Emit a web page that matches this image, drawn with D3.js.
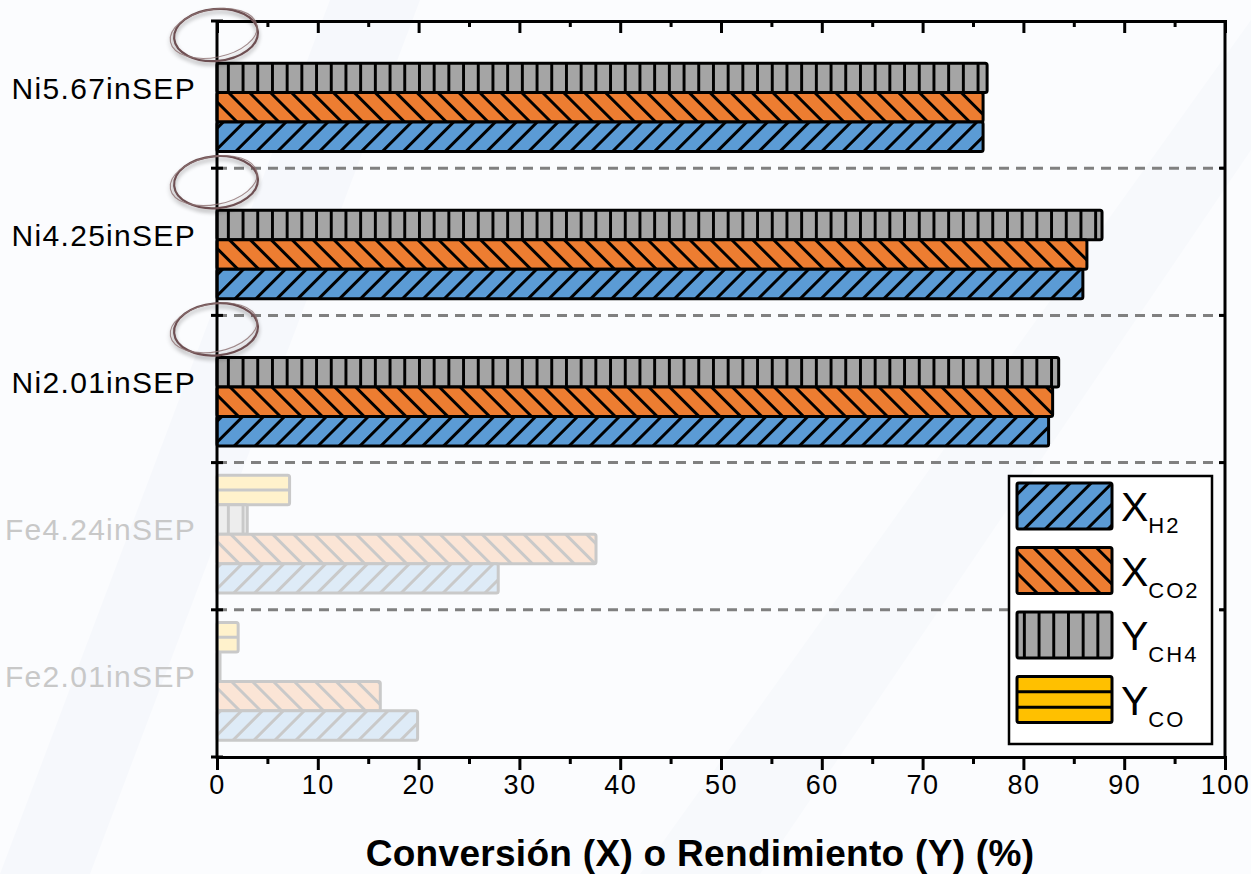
<!DOCTYPE html>
<html>
<head>
<meta charset="utf-8">
<script src="https://cdn.jsdelivr.net/npm/d3@7"></script>
<style>
body { margin: 0; background: #fbfcfe }
text { font-family: "Liberation Sans", Arial, sans-serif }
</style>
</head>
<body>
<svg id="chart" width="1251" height="874"></svg>
<script>
// categories top to bottom
const categories = ["Ni5.67inSEP", "Ni4.25inSEP", "Ni2.01inSEP", "Fe4.24inSEP", "Fe2.01inSEP"]
const faded = [false, false, false, true, true]

const xH2  = [76.0, 85.9, 82.5, 27.9, 19.9]
const xCO2 = [76.0, 86.3, 82.9, 37.6, 16.2]
const yCH4 = [76.4, 87.8, 83.5, 3.0, 0.3]
const yCO  = [0, 0, 0, 7.2, 2.1]

const xTicks = [0, 10, 20, 30, 40, 50, 60, 70, 80, 90, 100]
const xMinorTicks = [5, 15, 25, 35, 45, 55, 65, 75, 85, 95]

const seriesKeys = ["YCO", "YCH4", "XCO2", "XH2"]   // order inside a group, top to bottom
const legendKeys = ["XH2", "XCO2", "YCH4", "YCO"]
const legendMain = ["X", "X", "Y", "Y"]
const legendSub = ["H2", "CO2", "CH4", "CO"]

const xLabel = "Conversión (X) o Rendimiento (Y) (%)"

const values = { XH2: xH2, XCO2: xCO2, YCH4: yCH4, YCO: yCO }

const style = {
    XH2:  { fill: "#5b9bd5", pale: "#deebf7", hatch: "diag", angle: 45 },
    XCO2: { fill: "#ed7d31", pale: "#fbe5d6", hatch: "diag", angle: -45 },
    YCH4: { fill: "#a5a5a5", pale: "#ededed", hatch: "vert" },
    YCO:  { fill: "#ffc000", pale: "#fff2cc", hatch: "horiz" }
}
const paleStroke = "#c9c9c9"

const plot = { left: 217, right: 1225, top: 21, bottom: 757 }

const svg = d3.select("#chart")
const defs = svg.append("defs")

const x = d3.scaleLinear().domain([0, 100]).range([plot.left, plot.right])
const y = d3.scaleBand().domain(categories).range([plot.top, plot.bottom]).padding(0)
const ySub = d3.scaleBand().domain(seriesKeys).range([-2, y.bandwidth() - 2]).paddingOuter(0.5).paddingInner(0)

// hatch patterns
function makePattern(id, key, pale) {
    const s = style[key]
    const bg = pale ? s.pale : s.fill
    const ink = pale ? paleStroke : "#000"
    if (s.hatch == "diag") {
        const w = 14.8
        const p = defs.append("pattern").attr("id", id)
            .attr("patternUnits", "userSpaceOnUse")
            .attr("width", w).attr("height", w)
            .attr("patternTransform", "rotate(" + s.angle + ")")
        p.append("rect").attr("width", w).attr("height", w).attr("fill", bg)
        p.append("line").attr("x1", w / 2).attr("x2", w / 2).attr("y1", -1).attr("y2", w + 1)
            .attr("stroke", ink).attr("stroke-width", 3)
    } else if (s.hatch == "vert") {
        const w = 14.7
        const p = defs.append("pattern").attr("id", id)
            .attr("patternUnits", "userSpaceOnUse")
            .attr("x", plot.left + 4)
            .attr("width", w).attr("height", 40)
        p.append("rect").attr("width", w).attr("height", 40).attr("fill", bg)
        p.append("line").attr("x1", w / 2).attr("x2", w / 2).attr("y1", -1).attr("y2", 41)
            .attr("stroke", ink).attr("stroke-width", 3)
    }
}
seriesKeys.forEach(k => { makePattern("h-" + k, k, false); makePattern("p-" + k, k, true) })

// shadow for the hand-drawn circles
const f = defs.append("filter").attr("id", "soft").attr("x", "-20%").attr("y", "-20%").attr("width", "140%").attr("height", "160%")
f.append("feGaussianBlur").attr("in", "SourceAlpha").attr("stdDeviation", 2)
f.append("feOffset").attr("dy", 3).attr("result", "b")
f.append("feComponentTransfer").append("feFuncA").attr("type", "linear").attr("slope", 0.35)
const fm = f.append("feMerge")
fm.append("feMergeNode")
fm.append("feMergeNode").attr("in", "SourceGraphic")

// faint background bands
svg.append("polygon").attr("points", "0,874 90,874 420,0 330,0").attr("fill", "#f6f8fc")
svg.append("polygon").attr("points", "640,874 760,874 1251,150 1251,20").attr("fill", "#f7f9fc")

// separators
const bounds = categories.slice(1).map(c => y(c))
svg.append("g").selectAll("line").data(bounds).join("line")
    .attr("x1", plot.left).attr("x2", plot.right)
    .attr("y1", d => d).attr("y2", d => d)
    .attr("stroke", "#808080").attr("stroke-width", 3)
    .attr("stroke-dasharray", "10,7")

// bars
function fillFor(key, isPale) {
    const s = style[key]
    if (s.hatch == "horiz") return isPale ? s.pale : s.fill
    return "url(#" + (isPale ? "p-" : "h-") + key + ")"
}

const bars = []
categories.forEach((c, i) => {
    seriesKeys.forEach(k => {
        if (values[k][i] > 0) bars.push({ cat: c, key: k, v: values[k][i], pale: faded[i] })
    })
})

const barG = svg.append("g")
barG.selectAll("rect").data(bars).join("rect")
    .attr("x", x(0))
    .attr("y", d => y(d.cat) + ySub(d.key))
    .attr("width", d => x(d.v) - x(0))
    .attr("height", ySub.bandwidth())
    .attr("rx", 2)
    .attr("fill", d => fillFor(d.key, d.pale))
    .attr("stroke", d => d.pale ? paleStroke : "#000")
    .attr("stroke-width", 3)

barG.selectAll("line.co").data(bars.filter(d => d.key == "YCO")).join("line")
    .attr("class", "co")
    .attr("x1", x(0)).attr("x2", d => x(d.v))
    .attr("y1", d => y(d.cat) + ySub(d.key) + ySub.bandwidth() / 2)
    .attr("y2", d => y(d.cat) + ySub(d.key) + ySub.bandwidth() / 2)
    .attr("stroke", d => d.pale ? paleStroke : "#000").attr("stroke-width", 3)

// axes frame
const frame = svg.append("g").attr("stroke", "#000").attr("stroke-width", 3)
frame.append("line").attr("x1", plot.left).attr("x2", plot.left).attr("y1", plot.top).attr("y2", plot.bottom + 1.5)
frame.append("line").attr("x1", plot.right).attr("x2", plot.right).attr("y1", plot.top).attr("y2", plot.bottom + 1.5)

frame.selectAll("line.lt").data(bounds.concat([plot.top, plot.bottom])).join("line")
    .attr("class", "lt")
    .attr("x1", plot.left - 6).attr("x2", plot.left + 6)
    .attr("y1", d => d).attr("y2", d => d)
frame.selectAll("line.rt").data(bounds).join("line")
    .attr("class", "rt")
    .attr("x1", plot.right - 6).attr("x2", plot.right)
    .attr("y1", d => d).attr("y2", d => d)

function styleAxis(g) {
    g.select(".domain").attr("stroke-width", 3)
    g.selectAll(".tick line").attr("stroke-width", 3)
}

svg.append("g").attr("transform", "translate(0," + plot.bottom + ")")
    .call(d3.axisBottom(x).tickValues(xTicks).tickSize(13).tickSizeOuter(0).tickPadding(5))
    .call(styleAxis)
    .call(g => g.selectAll(".tick text")
        .attr("font-size", 27).attr("fill", "#000").attr("letter-spacing", 1.5)
        .style("font-family", "'Liberation Sans', Arial, sans-serif"))

svg.append("g").attr("transform", "translate(0," + plot.bottom + ")")
    .call(d3.axisBottom(x).tickValues(xMinorTicks).tickSize(7).tickFormat(""))
    .call(styleAxis)

svg.append("g").attr("transform", "translate(0," + plot.top + ")")
    .call(d3.axisBottom(x).tickValues(xTicks).tickSize(12).tickSizeOuter(0).tickFormat(""))
    .call(styleAxis)
svg.append("g").attr("transform", "translate(0," + plot.top + ")")
    .call(d3.axisBottom(x).tickValues(xMinorTicks).tickSize(6).tickFormat(""))
    .call(styleAxis)

// category labels
svg.append("g").selectAll("text").data(categories).join("text")
    .attr("x", 196)
    .attr("y", d => y(d) + y.bandwidth() / 2 + 4)
    .attr("text-anchor", "end")
    .attr("font-size", 30)
    .attr("letter-spacing", 1.3)
    .attr("fill", (d, i) => faded[i] ? "#c8c8c8" : "#000")
    .text(d => d)

// hand-drawn circles on the Ni groups
const marked = categories.filter((c, i) => !faded[i])
const circ = svg.append("g").attr("filter", "url(#soft)").attr("fill", "none")
marked.forEach(c => {
    const cy = y(c) + 14, cx = plot.left - 1
    circ.append("ellipse").attr("cx", cx).attr("cy", cy).attr("rx", 42).attr("ry", 26)
        .attr("transform", "rotate(-5," + cx + "," + cy + ")")
        .attr("stroke", "#6e5052").attr("stroke-width", 2.2)
    circ.append("ellipse").attr("cx", cx - 2).attr("cy", cy - 2).attr("rx", 44).attr("ry", 24)
        .attr("transform", "rotate(-11," + cx + "," + cy + ")")
        .attr("stroke", "#8c7072").attr("stroke-width", 1.2).attr("opacity", 0.8)
})

// x label
svg.append("text")
    .attr("x", 700).attr("y", 866)
    .attr("text-anchor", "middle")
    .attr("font-size", 37).attr("font-weight", "bold")
    .attr("letter-spacing", 0.3)
    .text(xLabel)

// legend
const lg = svg.append("g")
lg.append("rect").attr("x", 1009).attr("y", 476).attr("width", 203).attr("height", 268)
    .attr("fill", "#fff").attr("stroke", "#000").attr("stroke-width", 2.5)

legendKeys.forEach((k, i) => {
    const ty = 483 + i * 64.5
    const legFill = style[k].hatch == "horiz" ? style[k].fill : "url(#lg-" + k + ")"
    if (style[k].hatch != "horiz") {
        // legend copy of the pattern anchored to the swatch
        const src = d3.select("#h-" + k)
        const cl = src.node().cloneNode(true)
        cl.id = "lg-" + k
        defs.node().appendChild(cl)
        d3.select(cl).attr("x", 1017).attr("y", ty)
    }
    lg.append("rect").attr("x", 1017).attr("y", ty).attr("width", 95).attr("height", 46)
        .attr("rx", 2)
        .attr("fill", legFill).attr("stroke", "#000").attr("stroke-width", 3)
    if (style[k].hatch == "horiz") {
        [1, 2].forEach(j => lg.append("line")
            .attr("x1", 1017).attr("x2", 1112)
            .attr("y1", ty + j * 46 / 3).attr("y2", ty + j * 46 / 3)
            .attr("stroke", "#000").attr("stroke-width", 3))
    }
    const t = lg.append("text").attr("x", 1121).attr("y", ty + 38).attr("font-size", 41)
    t.append("tspan").text(legendMain[i])
    t.append("tspan").attr("dy", 12).attr("font-size", 22).attr("letter-spacing", 2).text(legendSub[i])
})
</script>
</body>
</html>
